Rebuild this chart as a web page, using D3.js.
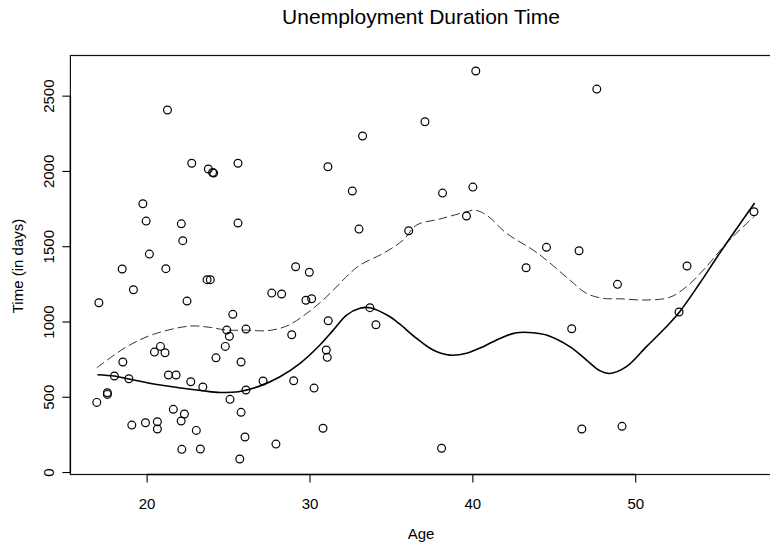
<!DOCTYPE html>
<html lang="en">
	<head>
		<meta charset="utf-8">
		<title>Unemployment Duration Time</title>
		<script type="text/javascript" src="https://d3js.org/d3.v7.min.js"></script>
		<style>
			body { margin: 0; background: #fff; }
			text { font-family: "Liberation Sans", Arial, Helvetica, sans-serif; fill: #000; }
		</style>
	</head>
    <body>
        <div id="chart"></div>

        <script type="text/javascript">

            // observations: age and unemployment time (days)
            var age = [21.25, 22.74, 23.76, 24.09, 24.02, 25.58, 19.74, 19.94, 22.10, 25.58,
                       22.19, 20.14, 18.47, 21.15, 23.68, 23.88, 19.16, 17.04, 22.45, 29.12,
                       29.96, 27.65, 28.26, 29.75, 30.10, 25.26, 24.89, 26.07, 25.05, 28.88,
                       20.82, 20.45, 21.10, 24.80, 24.23, 25.77, 18.51, 17.99, 18.88, 21.31,
                       21.78, 22.68, 23.42, 27.12, 29.00, 30.25, 26.07, 17.56, 17.56, 16.91,
                       25.09, 21.61, 22.29, 22.09, 25.77, 19.06, 19.90, 20.63, 20.63, 23.02,
                       30.80, 26.01, 27.91, 22.13, 23.27, 25.69, 40.18, 37.06, 33.23, 31.10,
                       32.60, 38.14, 40.00, 33.01, 36.06, 39.61, 31.12, 33.68, 34.05, 31.00,
                       31.06, 38.08, 43.27, 47.61, 57.26, 44.52, 46.52, 53.15, 48.88, 52.66,
                       46.07, 46.69, 49.16];
            var days = [2408, 2054, 2016, 1989, 1993, 2054, 1785, 1670, 1652, 1657,
                        1540, 1451, 1352, 1354, 1281, 1281, 1214, 1128, 1139, 1367,
                        1330, 1192, 1186, 1144, 1154, 1051, 946, 953, 905, 915,
                        838, 800, 796, 838, 762, 734, 734, 641, 623, 648,
                        648, 603, 568, 608, 610, 561, 548, 530, 519, 466,
                        486, 420, 389, 342, 400, 315, 331, 337, 289, 280,
                        294, 236, 189, 154, 156, 90, 2667, 2330, 2235, 2031,
                        1870, 1856, 1896, 1617, 1606, 1704, 1008, 1095, 982, 814,
                        765, 161, 1360, 2547, 1732, 1496, 1473, 1372, 1250, 1066,
                        955, 289, 307];

            // solid smooth curve
            var solidAge = [16.95, 17.99, 18.88, 20.80, 23.44, 24.48, 25.60, 26.90, 28.16, 29.39,
                            30.61, 31.43, 32.25, 33.07, 33.68, 34.91, 35.52, 36.55, 37.56, 38.59,
                            39.61, 40.63, 41.66, 42.68, 43.70, 44.52, 45.95, 46.98, 47.79, 48.41,
                            49.43, 50.66, 51.88, 52.70, 53.93, 55.15, 57.30];
            var solidDays = [650, 641, 621, 581, 543, 532, 537, 574, 636, 725,
                             847, 946, 1046, 1091, 1095, 1035, 985, 891, 814, 780,
                             792, 836, 891, 929, 929, 913, 836, 747, 677, 658,
                             703, 836, 968, 1068, 1257, 1456, 1790];

            // dashed smooth curve
            var dashAge = [16.91, 18.75, 20.39, 22.64, 23.87, 24.89, 26.12, 27.34, 28.57, 29.80,
                           31.02, 32.45, 33.07, 34.50, 35.72, 36.55, 37.98, 39.61, 40.12, 40.84,
                           42.07, 43.70, 44.52, 45.95, 46.98, 47.99, 49.02, 50.66, 52.09, 53.11,
                           54.34, 55.56, 57.30];
            var dashDays = [696, 836, 918, 973, 964, 946, 946, 942, 973, 1057,
                            1168, 1323, 1378, 1456, 1544, 1644, 1684, 1732, 1743, 1710,
                            1589, 1478, 1411, 1279, 1190, 1157, 1154, 1146, 1164, 1234,
                            1367, 1522, 1704];

            // tick labels
            var xTicks = [20, 30, 40, 50];
            var yTicks = [0, 500, 1000, 1500, 2000, 2500];

            // width and height of svg
            var w = 770;
            var h = 545;

            // plot box (right side runs past the window)
            var boxL = 70.4, boxR = 781, boxT = 55.5, boxB = 474.5;

            var svg = d3.select('#chart')
                .append('svg')
                .attr('width', w)
                .attr('height', h);

            // scales with 4% padding like R
            var x = d3.scaleLinear()
                .domain([15.29, 58.92])
                .range([boxL, boxR]);
            var y = d3.scaleLinear()
                .domain([-13, 2770])
                .range([boxB, boxT]);

            // box
            svg.append('rect')
                .attr('x', boxL)
                .attr('y', boxT)
                .attr('width', boxR - boxL)
                .attr('height', boxB - boxT)
                .attr('fill', 'none')
                .attr('stroke', '#111')
                .attr('stroke-width', 1.2);

            // x axis
            var gx = svg.append('g')
                .attr('transform', 'translate(0,' + boxB + ')');
            gx.append('line')
                .attr('x1', x(xTicks[0]))
                .attr('x2', x(xTicks[xTicks.length - 1]))
                .attr('stroke', '#000')
                .attr('stroke-width', 1.4);
            gx.selectAll('line.tick')
                .data(xTicks)
                .enter()
                .append('line')
                .attr('class', 'tick')
                .attr('x1', function (d) { return x(d); })
                .attr('x2', function (d) { return x(d); })
                .attr('y1', 0)
                .attr('y2', 8)
                .attr('stroke', '#000')
                .attr('stroke-width', 1.1);
            gx.selectAll('text')
                .data(xTicks)
                .enter()
                .append('text')
                .attr('x', function (d) { return x(d); })
                .attr('y', 34)
                .attr('text-anchor', 'middle')
                .style('font-size', '15px')
                .text(function (d) { return d; });

            // y axis
            var gy = svg.append('g')
                .attr('transform', 'translate(' + boxL + ',0)');
            gy.append('line')
                .attr('y1', y(yTicks[0]))
                .attr('y2', y(yTicks[yTicks.length - 1]))
                .attr('stroke', '#000')
                .attr('stroke-width', 1.4);
            gy.selectAll('line.tick')
                .data(yTicks)
                .enter()
                .append('line')
                .attr('class', 'tick')
                .attr('y1', function (d) { return y(d); })
                .attr('y2', function (d) { return y(d); })
                .attr('x1', 0)
                .attr('x2', -8)
                .attr('stroke', '#000')
                .attr('stroke-width', 1.1);
            gy.selectAll('text')
                .data(yTicks)
                .enter()
                .append('text')
                .attr('transform', function (d) { return 'translate(-16,' + y(d) + ') rotate(-90)'; })
                .attr('text-anchor', 'middle')
                .style('font-size', '15px')
                .text(function (d) { return d; });

            // titles
            svg.append('text')
                .attr('x', 421)
                .attr('y', 24)
                .attr('text-anchor', 'middle')
                .style('font-size', '21px')
                .text('Unemployment Duration Time');
            svg.append('text')
                .attr('x', 421)
                .attr('y', 539)
                .attr('text-anchor', 'middle')
                .style('font-size', '15px')
                .text('Age');
            svg.append('text')
                .attr('transform', 'translate(23,266) rotate(-90)')
                .attr('text-anchor', 'middle')
                .style('font-size', '15px')
                .text('Time (in days)');

            // curves
            var line = d3.line()
                .x(function (d) { return x(d[0]); })
                .y(function (d) { return y(d[1]); })
                .curve(d3.curveCatmullRom.alpha(0.5));

            svg.append('path')
                .datum(d3.zip(dashAge, dashDays))
                .attr('d', line)
                .attr('fill', 'none')
                .attr('stroke', '#333')
                .attr('stroke-width', 1)
                .attr('stroke-dasharray', '9,4');

            svg.append('path')
                .datum(d3.zip(solidAge, solidDays))
                .attr('d', line)
                .attr('fill', 'none')
                .attr('stroke', '#000')
                .attr('stroke-width', 1.6);

            // points
            svg.append('g')
                .selectAll('circle')
                .data(d3.zip(age, days))
                .enter()
                .append('circle')
                .attr('cx', function (d) { return x(d[0]); })
                .attr('cy', function (d) { return y(d[1]); })
                .attr('r', 3.9)
                .attr('fill', 'none')
                .attr('stroke', '#000')
                .attr('stroke-width', 1.2);

        </script>
    </body>
</html>
